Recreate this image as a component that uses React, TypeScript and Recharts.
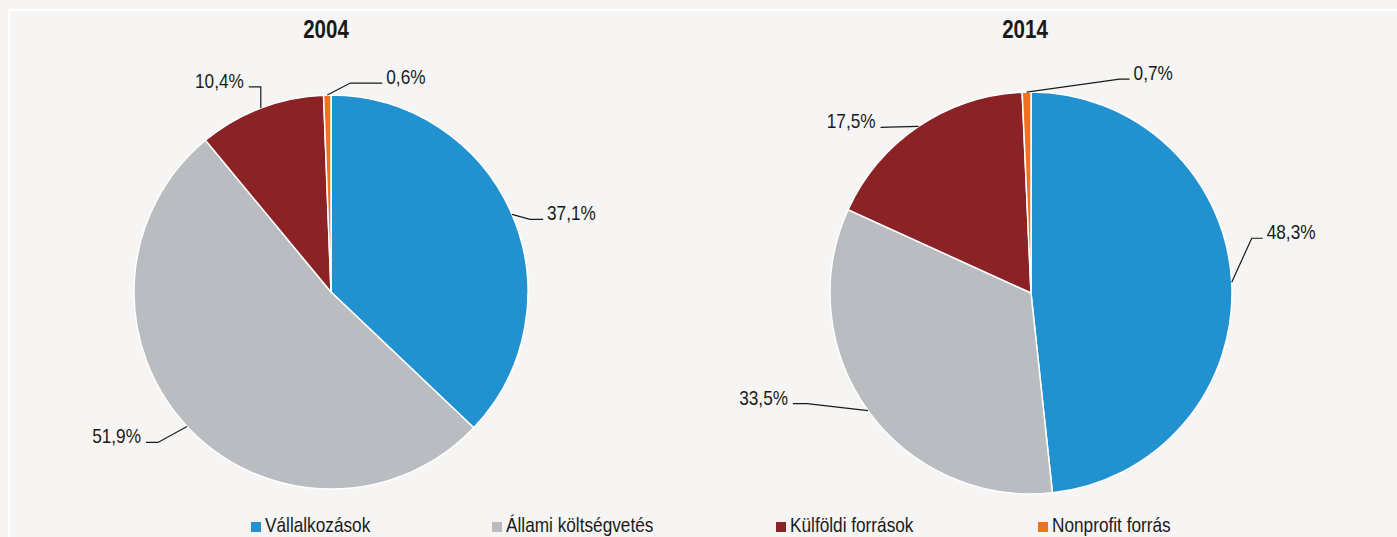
import {PieChart, Pie, Cell, Legend} from "recharts";

const categories = ["Vállalkozások", "Állami költségvetés", "Külföldi források", "Nonprofit forrás"];
const years = ["2004", "2014"];
const values2004 = [37.1, 51.9, 10.4, 0.6];
const values2014 = [48.3, 33.5, 17.5, 0.7];

const COLORS = ["#2291d0", "#b9bdc1", "#8b2226", "#f07122"];
const FONT = "'Liberation Sans', Arial, sans-serif";
const SQUEEZE = 0.82; // no narrow font installed, so squeeze Liberation Sans
const RADIAN = Math.PI / 180;

// leader line layout per slice: elbow and end offsets from the slice edge point
const leaders = [
    [
        {elbow: [18, 5], end: [31, 5], anchor: "start"},
        {elbow: [-29, 16], end: [-41, 16], anchor: "end"},
        {elbow: [0, -21], end: [-12, -21], anchor: "end"},
        {elbow: [23, -12], end: [55, -12], anchor: "start"},
    ],
    [
        {elbow: [20, -44], end: [31, -44], anchor: "start"},
        {elbow: [-61, -7], end: [-75, -7], anchor: "end"},
        {elbow: [-20, 0.5], end: [-38, 1], anchor: "end"},
        {elbow: [93, -13], end: [103, -13], anchor: "start"},
    ],
];

const toRows = (values) => values.map((value, i) => ({name: categories[i], value}));

const fmt = (v) => v.toFixed(1).replace(".", ",") + "%";

const makeLabel = (pieIndex) => (props) => {
    const {cx, cy, midAngle, outerRadius, index, value} = props;
    const cfg = leaders[pieIndex][index];
    const x0 = cx + outerRadius * Math.cos(-midAngle * RADIAN);
    const y0 = cy + outerRadius * Math.sin(-midAngle * RADIAN);
    const x1 = x0 + cfg.elbow[0];
    const y1 = y0 + cfg.elbow[1];
    const x2 = x0 + cfg.end[0];
    const y2 = y0 + cfg.end[1];
    const tx = cfg.anchor === "start" ? x2 + 4 : x2 - 5;
    return (
        <g key={`lbl-${pieIndex}-${index}`}>
            <polyline points={`${x0},${y0} ${x1},${y1} ${x2},${y2}`} fill="none" stroke="#1a1a1a" strokeWidth={1.2}/>
            <text transform={`translate(${tx},${y2 + 1}) scale(${SQUEEZE},1)`} x={0} y={0}
                  textAnchor={cfg.anchor} fill="#1a1a1a" fontSize={21} fontFamily={FONT}>
                {fmt(value)}
            </text>
        </g>
    );
};

const legendX = [251, 492, 776, 1038];

const LegendContent = () => (
    <div style={{position: "relative", height: 24, fontFamily: FONT, fontSize: 21, color: "#1a1a1a"}}>
        {categories.map((c, i) => (
            <div key={c}>
                <span style={{position: "absolute", left: legendX[i], top: 9, width: 10, height: 10, background: COLORS[i]}}/>
                <span style={{
                    position: "absolute", left: legendX[i] + 14, top: 0, whiteSpace: "nowrap", lineHeight: "24px",
                    transform: `scaleX(${SQUEEZE})`, transformOrigin: "left center"
                }}>{c}</span>
            </div>
        ))}
    </div>
);

export default function App() {
    document.body.style.margin = "0";
    const pies = [
        {data: toRows(values2004), cx: 331, cy: 292, r: 197},
        {data: toRows(values2014), cx: 1031, cy: 293, r: 201},
    ];
    return (
        <div style={{position: "relative", width: 1397, height: 537, background: "#f6f5f3", overflow: "hidden"}}>
            <div style={{position: "absolute", left: 8, top: 9, width: 1400, height: 540, border: "2px solid #ffffff"}}/>
            <PieChart width={1397} height={537} margin={{top: 0, right: 0, bottom: 0, left: 0}}
                      style={{position: "absolute", left: 0, top: 0}}>
                {pies.map((p, k) => (
                    <Pie
                        key={years[k]}
                        data={p.data}
                        dataKey="value"
                        nameKey="name"
                        cx={p.cx}
                        cy={p.cy}
                        outerRadius={p.r}
                        startAngle={90}
                        endAngle={-270}
                        stroke="#ffffff"
                        strokeWidth={1.5}
                        label={makeLabel(k)}
                        labelLine={false}
                        isAnimationActive={false}
                    >
                        {p.data.map((entry, i) => (
                            <Cell key={`cell-${k}-${i}`} fill={COLORS[i]}/>
                        ))}
                    </Pie>
                ))}
                <text transform={`translate(326,38) scale(${SQUEEZE},1)`} textAnchor="middle" fontSize={25}
                      fontWeight="bold" fill="#1a1a1a" fontFamily={FONT}>{years[0]}</text>
                <text transform={`translate(1025,38) scale(${SQUEEZE},1)`} textAnchor="middle" fontSize={25}
                      fontWeight="bold" fill="#1a1a1a" fontFamily={FONT}>{years[1]}</text>
                <Legend
                    content={<LegendContent/>}
                    wrapperStyle={{position: "absolute", left: 0, top: 513, width: 1397, margin: 0}}
                />
            </PieChart>
        </div>
    );
}
